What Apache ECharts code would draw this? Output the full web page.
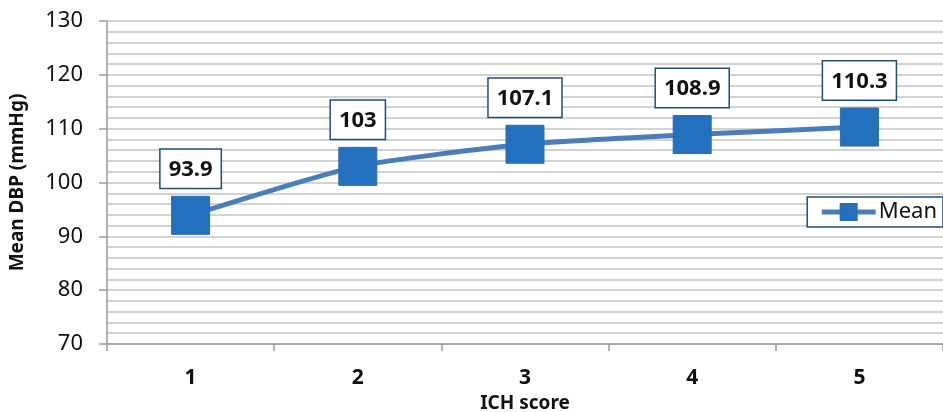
<!DOCTYPE html>
<html>
<head>
<meta charset="utf-8">
<script src="https://cdn.jsdelivr.net/npm/echarts@6/dist/echarts.min.js"></script>
<style>
  html, body { margin: 0; padding: 0; background: #fff; }
  #chart { width: 943px; height: 412px; }
</style>
</head>
<body>
<div id="chart"></div>
<script>
// ICH score categories and mean diastolic blood pressure per score
const ichScores = ['1', '2', '3', '4', '5'];
const meanDBP = [93.9, 103, 107.1, 108.9, 110.3];
const seriesName = 'Mean';

const yMin = 70, yMax = 130, yStep = 10;
const font = '"Noto Sans", "Open Sans", sans-serif';

const chart = echarts.init(document.getElementById('chart'));
chart.setOption({
  animation: false,
  grid: { left: 107, right: 0, top: 21, bottom: 68, containLabel: false, outerBoundsMode: 'none' },
  legend: {
    data: [seriesName],
    right: 0,
    top: 197,
    orient: 'vertical',
    backgroundColor: '#fff',
    borderColor: '#1F4E79',
    borderWidth: 1.5,
    padding: [4, 6, 4, 12],
    itemWidth: 54,
    itemHeight: 20,
    itemGap: 0,
    lineStyle: { width: 5, color: '#4A7EBB' },
    textStyle: { fontFamily: font, fontSize: 22, color: '#111', padding: [0, 0, 0, -2] }
  },
  xAxis: {
    type: 'category',
    data: ichScores,
    boundaryGap: true,
    name: 'ICH score',
    nameLocation: 'middle',
    nameGap: 50,
    nameTextStyle: { fontFamily: font, fontSize: 19, fontWeight: 'bold', color: '#111' },
    axisLine: { lineStyle: { color: '#9a9a9a', width: 1.5 } },
    axisTick: { show: true, length: 7, lineStyle: { color: '#9a9a9a', width: 1.5 } },
    axisLabel: { margin: 24, fontFamily: font, fontSize: 21, fontWeight: 'bold', color: '#111' },
    splitLine: { show: false }
  },
  yAxis: {
    type: 'value',
    min: yMin,
    max: yMax,
    interval: yStep,
    name: 'Mean DBP (mmHg)',
    nameLocation: 'middle',
    nameGap: 80,
    nameTextStyle: { fontFamily: font, fontSize: 19, fontWeight: 'bold', color: '#111' },
    axisLine: { show: true, lineStyle: { color: '#9a9a9a', width: 1.5 } },
    axisTick: { show: true, length: 8, lineStyle: { color: '#9a9a9a', width: 1.5 } },
    axisLabel: { margin: 24, fontFamily: font, fontSize: 22, color: '#111' },
    splitLine: { show: true, lineStyle: { color: '#c4c4c4', width: 1.5 } },
    minorTick: { show: false, splitNumber: 5 },
    minorSplitLine: { show: true, lineStyle: { color: '#c4c4c4', width: 1.5 } }
  },
  series: [{
    name: seriesName,
    type: 'line',
    data: meanDBP,
    smooth: 0.2,
    symbol: 'rect',
    symbolSize: 38,
    lineStyle: { color: '#4A7EBB', width: 5 },
    itemStyle: { color: '#2270BE', borderColor: '#2A6DB0', borderWidth: 1 },
    label: {
      show: true,
      position: 'top',
      distance: 8,
      fontFamily: font,
      fontSize: 22,
      fontWeight: 'bold',
      color: '#111',
      backgroundColor: '#fff',
      borderColor: '#1F4E79',
      borderWidth: 1.5,
      padding: [9, 8, 7, 8]
    }
  }]
});
</script>
</body>
</html>
